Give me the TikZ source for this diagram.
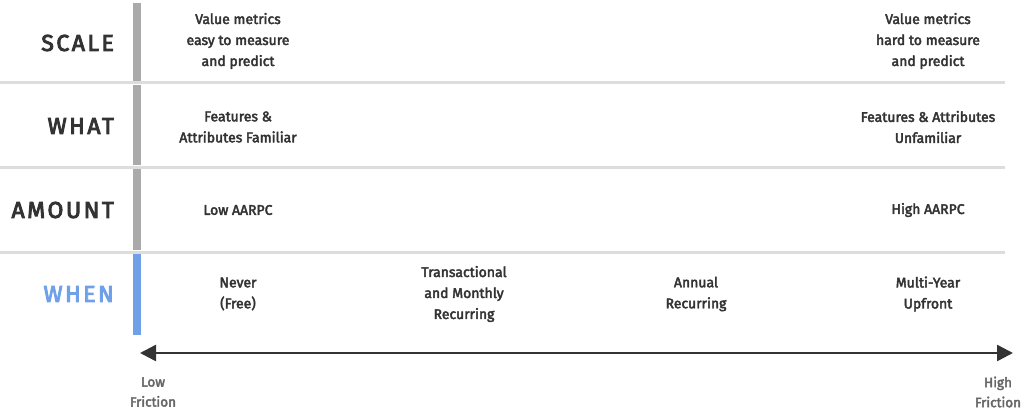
\documentclass[tikz,border=0pt]{standalone}
\usepackage{fontspec}
\setmainfont{Fira Sans}[FakeBold=3]
\newfontfamily\spaced{Fira Sans}[LetterSpace=11,FakeBold=4]
\usetikzlibrary{arrows.meta}
\definecolor{txt}{HTML}{333333}
\definecolor{rule}{HTML}{DDDDDD}
\definecolor{barg}{HTML}{AAAAAA}
\definecolor{blu}{HTML}{6FA0E8}
\definecolor{fric}{HTML}{666666}
\begin{document}
\begin{tikzpicture}[x=1pt,y=-1pt,
  rowlab/.style={anchor=east,font=\spaced\fontsize{23}{23}\selectfont,text=txt,inner sep=0pt},
  cell/.style={align=center,font=\fontsize{14}{21}\selectfont,text=txt,inner sep=0pt},
  hrule/.style={draw=rule,line width=3pt},
  vbar/.style={draw=barg,line width=8pt},
  fr/.style={align=center,font=\fontsize{13.5}{20}\selectfont,text=fric,inner sep=0pt}]
\useasboundingbox (0,0) rectangle (1026,412);
% rules
\coordinate (r1a) at (0,83); \coordinate (r1b) at (1005,83);
\coordinate (r2a) at (0,167); \coordinate (r2b) at (1005,167);
\coordinate (r3a) at (0,252); \coordinate (r3b) at (1005,252);
\draw[hrule] (r1a) -- (r1b);
\draw[hrule] (r2a) -- (r2b);
\draw[hrule] (r3a) -- (r3b);
% vertical bars
\coordinate (v1a) at (137,3); \coordinate (v1b) at (137,81);
\coordinate (v2a) at (137,85); \coordinate (v2b) at (137,165);
\coordinate (v3a) at (137,169); \coordinate (v3b) at (137,250);
\coordinate (v4a) at (137,254); \coordinate (v4b) at (137,335);
\draw[vbar] (v1a) -- (v1b);
\draw[vbar] (v2a) -- (v2b);
\draw[vbar] (v3a) -- (v3b);
\draw[vbar,draw=blu] (v4a) -- (v4b);
% row labels
\node[rowlab] (scale) at (114,43) {SCALE};
\node[rowlab] (what) at (114,126) {WHAT};
\node[rowlab] (amount) at (114,210) {AMOUNT};
\node[rowlab,text=blu] (when) at (114,294) {WHEN};
% cells
\node[cell] (s1) at (238,41) {Value metrics\\easy to measure\\and predict};
\node[cell] (s2) at (928,41) {Value metrics\\hard to measure\\and predict};
\node[cell] (w1) at (238,127) {Features \&\\Attributes Familiar};
\node[cell] (w2) at (928,127) {Features \& Attributes\\Unfamiliar};
\node[cell] (a1) at (238,210) {Low AARPC};
\node[cell] (a2) at (928,210) {High AARPC};
\node[cell] (n1) at (238,294) {Never\\(Free)};
\node[cell] (n2) at (464,294) {Transactional\\and Monthly\\Recurring};
\node[cell] (n3) at (696,294) {Annual\\Recurring};
\node[cell] (n4) at (928,294) {Multi-Year\\Upfront};
% arrow
\coordinate (al) at (140,353); \coordinate (ar) at (1013,353);
\draw[draw=txt,line width=2.5pt,{Triangle[length=16pt,width=16pt]}-{Triangle[length=16pt,width=16pt]}] (al) -- (ar);
\node[fr] (low) at (153,392) {Low\\Friction};
\node[fr] (high) at (998,392) {High\\Friction};
\end{tikzpicture}
\end{document}
